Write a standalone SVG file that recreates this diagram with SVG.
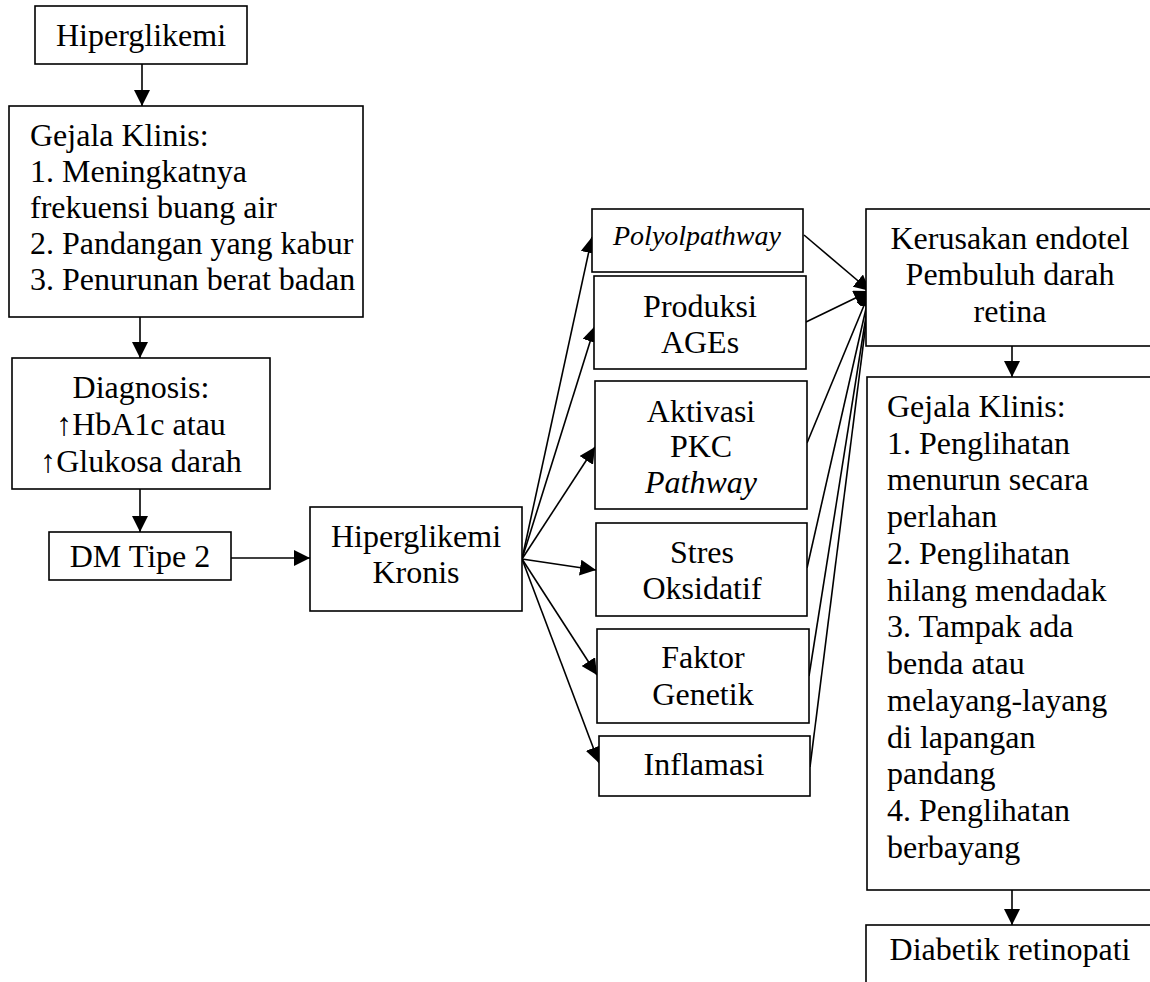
<svg xmlns="http://www.w3.org/2000/svg" width="1150" height="982" viewBox="0 0 1150 982">
<style>
.box{fill:#fff;stroke:#000;stroke-width:1.6}
text{font-family:'Liberation Serif','Times New Roman',serif;font-size:32px;fill:#000}
.c{text-anchor:middle}
.i{font-style:italic}
.ln{stroke:#000;stroke-width:1.6;fill:none;marker-end:url(#ah)}
</style>
<defs>
<marker id="ah" markerUnits="userSpaceOnUse" markerWidth="16" markerHeight="16" refX="14" refY="7" orient="auto" viewBox="0 0 14 14">
<path d="M0,0 L14,7 L0,14 Z" fill="#000"/>
</marker>
</defs>
<rect width="1150" height="982" fill="#fff"/>
<g id="connectors">
<line class="ln" x1="142" y1="64" x2="142" y2="106"/>
<line class="ln" x1="140" y1="317" x2="140" y2="358"/>
<line class="ln" x1="140" y1="489" x2="140" y2="532"/>
<line class="ln" x1="231" y1="558" x2="310" y2="558"/>
<line class="ln" x1="522" y1="559" x2="592" y2="237"/>
<line class="ln" x1="522" y1="559" x2="595" y2="326"/>
<line class="ln" x1="522" y1="559" x2="595" y2="447"/>
<line class="ln" x1="522" y1="559" x2="596" y2="570"/>
<line class="ln" x1="522" y1="559" x2="597" y2="675"/>
<line class="ln" x1="522" y1="559" x2="599" y2="763"/>
<line class="ln" x1="804" y1="235" x2="870" y2="291"/>
<line class="ln" x1="806" y1="322" x2="870" y2="291"/>
<line class="ln" x1="807" y1="443" x2="870" y2="291"/>
<line class="ln" x1="807" y1="568" x2="870" y2="291"/>
<line class="ln" x1="809" y1="676" x2="870" y2="291"/>
<line class="ln" x1="810" y1="767" x2="870" y2="291"/>
<line class="ln" x1="1012" y1="346" x2="1012" y2="377"/>
<line class="ln" x1="1012" y1="890" x2="1012" y2="925"/>
</g>
<g id="n-hiperglikemi">
<rect class="box" x="35" y="6" width="212" height="58"/>
<text class="c" x="141" y="46">Hiperglikemi</text>
</g>
<g id="n-gejala1">
<rect class="box" x="9" y="106" width="354" height="211"/>
<text x="30" y="146">Gejala Klinis:</text>
<text x="30" y="182">1. Meningkatnya</text>
<text x="30" y="218">frekuensi buang air</text>
<text x="30" y="254">2. Pandangan yang kabur</text>
<text x="30" y="290">3. Penurunan berat badan</text>
</g>
<g id="n-diagnosis">
<rect class="box" x="12" y="358" width="258" height="131"/>
<text class="c" x="141" y="398">Diagnosis:</text>
<text class="c" x="141" y="435">↑HbA1c atau</text>
<text class="c" x="141" y="472">↑Glukosa darah</text>
</g>
<g id="n-dm">
<rect class="box" x="49" y="532" width="182" height="48"/>
<text class="c" x="140" y="567">DM Tipe 2</text>
</g>
<g id="n-kronis">
<rect class="box" x="310" y="507" width="212" height="104"/>
<text class="c" x="416" y="547">Hiperglikemi</text>
<text class="c" x="416" y="583">Kronis</text>
</g>
<g id="n-polyol">
<rect class="box" x="592" y="209" width="211" height="63"/>
<text class="c i" x="697" y="245" style="font-size:28px">Polyolpathway</text>
</g>
<g id="n-ages">
<rect class="box" x="594" y="276" width="212" height="93"/>
<text class="c" x="700" y="317">Produksi</text>
<text class="c" x="700" y="353">AGEs</text>
</g>
<g id="n-pkc">
<rect class="box" x="595" y="381" width="212" height="128"/>
<text class="c" x="701" y="422">Aktivasi</text>
<text class="c" x="701" y="457">PKC</text>
<text class="c i" x="701" y="493">Pathway</text>
</g>
<g id="n-stres">
<rect class="box" x="596" y="523" width="211" height="93"/>
<text class="c" x="702" y="563">Stres</text>
<text class="c" x="702" y="599">Oksidatif</text>
</g>
<g id="n-faktor">
<rect class="box" x="597" y="629" width="212" height="94"/>
<text class="c" x="703" y="668">Faktor</text>
<text class="c" x="703" y="705">Genetik</text>
</g>
<g id="n-inflamasi">
<rect class="box" x="599" y="736" width="211" height="60"/>
<text class="c" x="704" y="775">Inflamasi</text>
</g>
<g id="n-kerusakan">
<rect class="box" x="866" y="209" width="290" height="137"/>
<text class="c" x="1010" y="249">Kerusakan endotel</text>
<text class="c" x="1010" y="285">Pembuluh darah</text>
<text class="c" x="1010" y="322">retina</text>
</g>
<g id="n-gejala2">
<rect class="box" x="867" y="377" width="290" height="513"/>
<text x="887" y="417">Gejala Klinis:</text>
<text x="887" y="454">1. Penglihatan</text>
<text x="887" y="490">menurun secara</text>
<text x="887" y="527">perlahan</text>
<text x="887" y="564">2. Penglihatan</text>
<text x="887" y="601">hilang mendadak</text>
<text x="887" y="637">3. Tampak ada</text>
<text x="887" y="674">benda atau</text>
<text x="887" y="711">melayang-layang</text>
<text x="887" y="748">di lapangan</text>
<text x="887" y="784">pandang</text>
<text x="887" y="821">4. Penglihatan</text>
<text x="887" y="858">berbayang</text>
</g>
<g id="n-diabetik">
<rect class="box" x="866" y="925" width="290" height="70"/>
<text class="c" x="1010" y="960">Diabetik retinopati</text>
</g>
</svg>
